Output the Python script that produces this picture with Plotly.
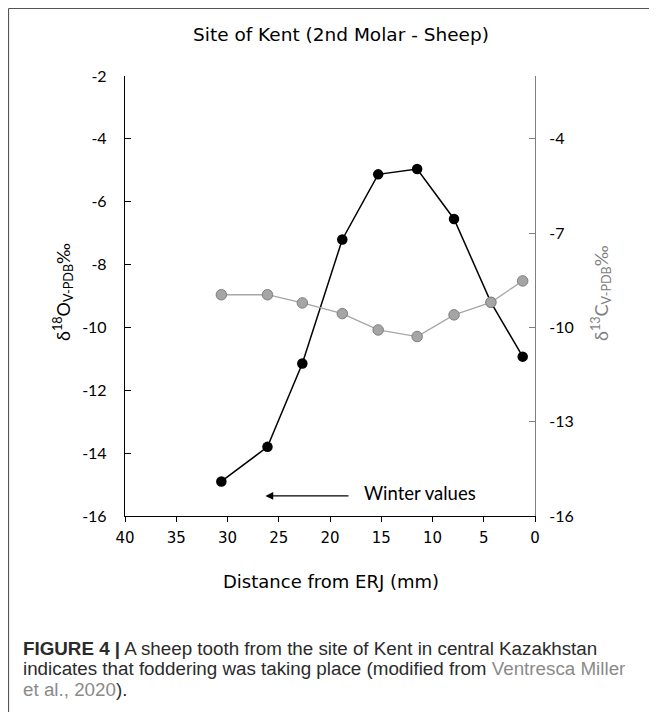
import plotly.graph_objects as go

# Distance from ERJ (mm)
distance_mm = [30.6, 26.1, 22.7, 18.8, 15.3, 11.5, 7.9, 4.3, 1.2]
# delta 18O (V-PDB, permil) - left axis
d18o = [-14.9, -13.8, -11.15, -7.2, -5.13, -4.96, -6.55, -9.2, -10.93]
# delta 13C (V-PDB, permil) - right axis
d13c = [-8.96, -8.96, -9.22, -9.56, -10.08, -10.29, -9.6, -9.2, -8.52]

x_ticks = [40, 35, 30, 25, 20, 15, 10, 5, 0]
left_ticks = [-16, -14, -12, -10, -8, -6, -4, -2]
left_tick_labels = ["-16", "-14", "-12", "-10", "-8", "-6", "-4", "-2"]
right_ticks = [-16, -13, -10, -7, -4]
right_tick_labels = ["-16", "-13", "-10", "-7", "-4"]

W, H = 657, 712
# plot area in screen pixels (page is drawn with an 8px body offset)
OFF = 8
L, R, T, B = 125, 535, 76, 516


def px(xs):
    return (xs - L) / (R - L)


def py(ys):
    return (B - ys) / (B - T)


fig = go.Figure()
fig.add_trace(go.Scatter(
    x=distance_mm, y=d18o, mode="lines+markers",
    line=dict(color="black", width=1.5),
    marker=dict(color="black", size=10.5, line=dict(color="black", width=0)),
    yaxis="y", showlegend=False, hoverinfo="x+y"))
fig.add_trace(go.Scatter(
    x=distance_mm, y=d13c, mode="lines+markers",
    line=dict(color="#a6a6a6", width=1.3),
    marker=dict(color="#a5a5a5", size=10.5, line=dict(color="#7f7f7f", width=1)),
    yaxis="y2", showlegend=False, hoverinfo="x+y"))

tick_font = dict(family="Lato, Carlito, sans-serif", size=16, color="black")

fig.update_layout(
    width=W, height=H,
    margin=dict(l=L - OFF, r=W - (R - OFF), t=T - OFF, b=H - (B - OFF), pad=0),
    paper_bgcolor="white", plot_bgcolor="white",
    font=dict(family="DejaVu Sans", color="black"),
    xaxis=dict(
        range=[40, 0], tickvals=x_ticks, ticks="outside", ticklen=5,
        tickwidth=1.3, tickcolor="black",
        showline=True, linecolor="black", linewidth=1.3,
        showgrid=False, zeroline=False,
        tickfont=dict(family="DejaVu Sans", size=15, color="black"),
        ticklabelstandoff=3,
    ),
    yaxis=dict(
        range=[-16, -2], tickvals=left_ticks, ticktext=left_tick_labels,
        ticks="inside", ticklen=6,
        tickwidth=1.3, tickcolor="black",
        showline=True, linecolor="black", linewidth=1.3,
        showgrid=False, zeroline=False, tickfont=tick_font,
        ticklabelstandoff=14,
    ),
    yaxis2=dict(
        range=[-16, -2], tickvals=right_ticks, ticktext=right_tick_labels,
        ticks="inside", ticklen=6,
        tickwidth=1, tickcolor="#7f7f7f",
        overlaying="y", side="right", anchor="x",
        showline=True, linecolor="#7f7f7f", linewidth=1.2,
        showgrid=False, zeroline=False, tickfont=tick_font,
        ticklabelstandoff=10,
    ),
)

ann = []
# chart title
ann.append(dict(x=px(341), y=py(35), xref="paper", yref="paper",
                text="Site of Kent (2nd Molar - Sheep)", showarrow=False,
                xanchor="center", yanchor="middle",
                font=dict(family="DejaVu Sans", size=18.5, color="black")))
# x-axis title
ann.append(dict(x=px(331), y=py(581), xref="paper", yref="paper",
                text="Distance from ERJ (mm)", showarrow=False,
                xanchor="center", yanchor="middle",
                font=dict(family="DejaVu Sans", size=18, color="black")))
# left y title
ann.append(dict(x=px(63), y=py(292), xref="paper", yref="paper",
                text="δ<sup>18</sup>O<sub>V-PDB</sub>‰", showarrow=False,
                textangle=-90, xanchor="center", yanchor="middle",
                font=dict(family="Lato, sans-serif", size=18, color="black")))
# right y title
ann.append(dict(x=px(601), y=py(293), xref="paper", yref="paper",
                text="δ<sup>13</sup>C<sub>V-PDB</sub>‰", showarrow=False,
                textangle=-90, xanchor="center", yanchor="middle",
                font=dict(family="Lato, sans-serif", size=18, color="#7f7f7f")))
# winter values arrow
ann.append(dict(x=26.3, y=-15.36, xref="x", yref="y",
                ax=18.05, ay=-15.36, axref="x", ayref="y",
                text="", showarrow=True, arrowhead=2, arrowsize=1.2,
                arrowwidth=1.3, arrowcolor="black"))
ann.append(dict(x=px(362), y=py(493), xref="paper", yref="paper",
                text="Winter values", showarrow=False,
                xanchor="left", yanchor="middle",
                font=dict(family="Lato, sans-serif", size=18.5, color="black")))

# caption
cap_font = dict(family="Liberation Sans, Arial, sans-serif", size=18.8, color="#2b2b2b")
gray = "#8a8a8a"
ann.append(dict(x=px(21), y=py(648), xref="paper", yref="paper", showarrow=False,
                xanchor="left", yanchor="middle", font=cap_font,
                text="<b>FIGURE 4 |</b> A sheep tooth from the site of Kent in central Kazakhstan"))
ann.append(dict(x=px(21), y=py(668.5), xref="paper", yref="paper", showarrow=False,
                xanchor="left", yanchor="middle", font=cap_font,
                text="indicates that foddering was taking place (modified from "
                     f"<span style='color:{gray}'>Ventresca Miller</span>"))
ann.append(dict(x=px(21), y=py(689), xref="paper", yref="paper", showarrow=False,
                xanchor="left", yanchor="middle", font=cap_font,
                text=f"<span style='color:{gray}'>et al., 2020</span>)."))
fig.update_layout(annotations=ann)

# outer frame (top and left edges; the rest runs past the window)
fig.add_shape(type="line", xref="paper", yref="paper",
              x0=px(8.5), x1=px(720), y0=py(8.5), y1=py(8.5),
              line=dict(color="#555555", width=1.2), layer="above")
fig.add_shape(type="line", xref="paper", yref="paper",
              x0=px(8.5), x1=px(8.5), y0=py(8.5), y1=py(760),
              line=dict(color="#555555", width=1.2), layer="above")

fig.write_html("out.html")
